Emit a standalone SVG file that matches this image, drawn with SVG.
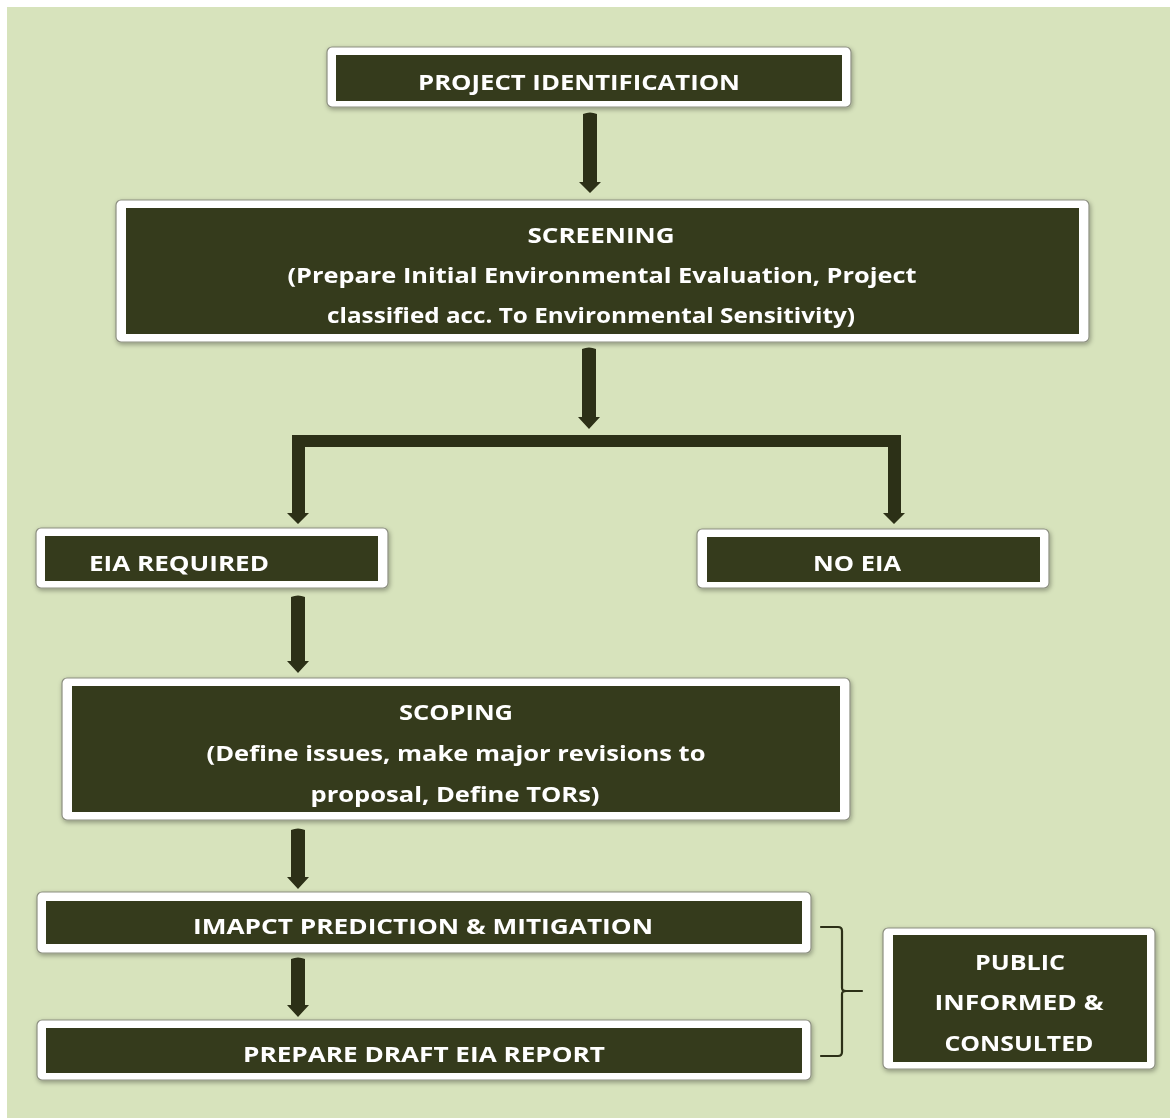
<svg xmlns="http://www.w3.org/2000/svg" width="1170" height="1118" viewBox="0 0 1170 1118">
  <defs>
    <filter id="sh" x="-5%" y="-20%" width="110%" height="140%">
      <feGaussianBlur in="SourceAlpha" stdDeviation="2.5"/>
      <feOffset dx="1" dy="2" result="b"/>
      <feComponentTransfer><feFuncA type="linear" slope="0.35"/></feComponentTransfer>
      <feMerge><feMergeNode/><feMergeNode in="SourceGraphic"/></feMerge>
    </filter>
  </defs>
  <style>
    .outer{fill:#ffffff;stroke:#8c8f80;stroke-width:1.2}
    .inner{fill:#363a1e}
    .t{font-family:"Open Sans","Noto Sans","DejaVu Sans",sans-serif;font-weight:700;font-size:22px;fill:#ffffff}
    .c{text-anchor:middle}
    .arr{fill:#2c3017}
    .brace{fill:none;stroke:#2c3017;stroke-width:2.2;stroke-linecap:round;stroke-linejoin:round}
  </style>
  <rect x="0" y="0" width="1170" height="1118" fill="#ffffff"/>
  <rect x="7" y="7" width="1163" height="1111" fill="#d7e3bc"/>

  <g id="connectors">
    <path class="arr" d="M583,114 Q590,111 597,114 L597,182 L601,182 L590,193 L579,182 L583,182 Z"/>
    <path class="arr" d="M582,349 Q589,346 596,349 L596,417 L600,417 L589,429 L578,417 L582,417 Z"/>
    <path class="arr" d="M292,435 L901,435 L901,513 L905,513 L894,524 L883,513 L888,513 L888,447 L305,447 L305,513 L309,513 L298,524 L287,513 L292,513 Z"/>
    <path class="arr" d="M291,597 Q298,594 305,597 L305,661 L309,661 L298,673 L287,661 L291,661 Z"/>
    <path class="arr" d="M291,830 Q298,827 305,830 L305,877 L309,877 L298,889 L287,877 L291,877 Z"/>
    <path class="arr" d="M291,959 Q298,956 305,959 L305,1005 L309,1005 L298,1017 L287,1005 L291,1005 Z"/>
    <path class="brace" d="M821,927 L838,927 Q842,927 842,931 L842,988 Q842,991 846,991 L862,991 M846,991 Q842,991 842,994 L842,1052 Q842,1056 838,1056 L821,1056"/>
  </g>

  <g id="project-identification" filter="url(#sh)">
    <rect class="outer" x="327" y="47" width="524" height="60" rx="5"/>
    <rect class="inner" x="336" y="55" width="506" height="46"/>
    <text class="t c" x="579" y="90" textLength="322" lengthAdjust="spacingAndGlyphs">PROJECT IDENTIFICATION</text>
  </g>

  <g id="screening" filter="url(#sh)">
    <rect class="outer" x="116" y="200" width="973" height="142" rx="5"/>
    <rect class="inner" x="126" y="208" width="953" height="126"/>
    <text class="t c" x="601" y="243" textLength="147" lengthAdjust="spacingAndGlyphs">SCREENING</text>
    <text class="t c" x="602" y="283" textLength="629" lengthAdjust="spacingAndGlyphs">(Prepare Initial Environmental Evaluation, Project</text>
    <text class="t c" x="591" y="323" textLength="528" lengthAdjust="spacingAndGlyphs">classified acc. To Environmental Sensitivity)</text>
  </g>

  <g id="eia-required" filter="url(#sh)">
    <rect class="outer" x="36" y="528" width="352" height="60" rx="5"/>
    <rect class="inner" x="45" y="536" width="333" height="45"/>
    <text class="t" x="89" y="571" textLength="180" lengthAdjust="spacingAndGlyphs">EIA REQUIRED</text>
  </g>

  <g id="no-eia" filter="url(#sh)">
    <rect class="outer" x="697" y="529" width="352" height="59" rx="5"/>
    <rect class="inner" x="707" y="537" width="333" height="45"/>
    <text class="t c" x="857" y="571" textLength="88" lengthAdjust="spacingAndGlyphs">NO EIA</text>
  </g>

  <g id="scoping" filter="url(#sh)">
    <rect class="outer" x="62" y="678" width="788" height="142" rx="5"/>
    <rect class="inner" x="72" y="686" width="768" height="126"/>
    <text class="t c" x="456" y="720" textLength="114" lengthAdjust="spacingAndGlyphs">SCOPING</text>
    <text class="t c" x="456" y="761" textLength="499" lengthAdjust="spacingAndGlyphs">(Define issues, make major revisions to</text>
    <text class="t c" x="455" y="802" textLength="289" lengthAdjust="spacingAndGlyphs">proposal, Define TORs)</text>
  </g>

  <g id="impact-prediction" filter="url(#sh)">
    <rect class="outer" x="37" y="892" width="774" height="61" rx="5"/>
    <rect class="inner" x="46" y="901" width="756" height="43"/>
    <text class="t c" x="423" y="934" textLength="460" lengthAdjust="spacingAndGlyphs">IMAPCT PREDICTION &amp; MITIGATION</text>
  </g>

  <g id="draft-eia-report" filter="url(#sh)">
    <rect class="outer" x="37" y="1020" width="774" height="60" rx="5"/>
    <rect class="inner" x="46" y="1028" width="756" height="45"/>
    <text class="t c" x="424" y="1062" textLength="362" lengthAdjust="spacingAndGlyphs">PREPARE DRAFT EIA REPORT</text>
  </g>

  <g id="public-consulted" filter="url(#sh)">
    <rect class="outer" x="883" y="928" width="272" height="141" rx="5"/>
    <rect class="inner" x="893" y="935" width="254" height="127"/>
    <text class="t c" x="1020" y="970" textLength="90" lengthAdjust="spacingAndGlyphs">PUBLIC</text>
    <text class="t c" x="1019" y="1010" textLength="169" lengthAdjust="spacingAndGlyphs">INFORMED &amp;</text>
    <text class="t c" x="1019" y="1051" textLength="149" lengthAdjust="spacingAndGlyphs">CONSULTED</text>
  </g>
</svg>
